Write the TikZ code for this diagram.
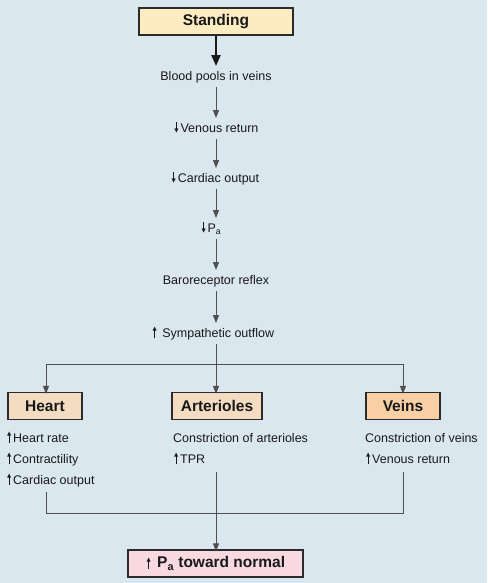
\documentclass[tikz,border=0pt]{standalone}
\usepackage{fontspec}
\setmainfont{Liberation Sans}
\newfontfamily\djv{DejaVu Sans}
\usetikzlibrary{arrows.meta}
\definecolor{bg}{HTML}{DAE7EF}
\definecolor{standfill}{HTML}{FDEBC2}
\definecolor{tanfill}{HTML}{F3DCC2}
\definecolor{veinfill}{HTML}{F9CFA6}
\definecolor{pinkfill}{HTML}{F8D9E1}
\definecolor{boxline}{HTML}{2B2B2B}
\definecolor{linec}{HTML}{505050}
\newcommand\uparr{{\setlength\unitlength{1pt}\begin{picture}(6,10)\put(2.6,-1){\rule{0.8pt}{8pt}}\put(3,8.2){\makebox(0,0){\djv\fontsize{5.5}{5.5}\selectfont ▲}}\end{picture}}\kern1pt}
\newcommand\dnarr{{\setlength\unitlength{1pt}\begin{picture}(6,10)\put(2.6,2){\rule{0.8pt}{8.5pt}}\put(3,0.8){\makebox(0,0){\djv\fontsize{5.5}{5.5}\selectfont ▼}}\end{picture}}\kern1pt}
\begin{document}
\begin{tikzpicture}[x=1pt,y=-1pt,
  txt/.style={font=\fontsize{12.5}{14}\selectfont, inner sep=0pt, text height=9pt, text depth=2.5pt, text=black!90},
  box/.style={draw=boxline, line width=1.2pt, minimum height=27pt, font=\fontsize{15.5}{17}\selectfont\bfseries, inner sep=0pt, text=black!90},
  arr/.style={draw=linec, line width=0.9pt, -{Triangle[length=8pt,width=6pt]}},
  ln/.style={draw=linec, line width=0.9pt}]
\fill[bg] (0,0) rectangle (487,583);
\useasboundingbox (0,0) rectangle (487,583);

\node[box, fill=standfill, minimum width=154pt] (stand) at (216,21.5) {Standing};
\node[txt] (blood) at (216,77) {Blood pools in veins};
\node[txt] (venous) at (216,129) {\dnarr Venous return};
\node[txt] (cardiac) at (215,179) {\dnarr Cardiac output};
\node[txt] (pa) at (211,229) {\dnarr P\textsubscript{a}};
\node[txt] (baro) at (216,281) {Baroreceptor reflex};
\node[txt] (symp) at (213,334) {\uparr\ Sympathetic outflow};

\node[box, fill=tanfill, minimum width=74pt] (heart) at (45,406) {Heart};
\node[box, fill=tanfill, minimum width=90pt] (arter) at (217,406) {Arterioles};
\node[box, fill=veinfill, minimum width=74pt] (veins) at (403,406) {Veins};

\node[txt, anchor=west] (h1) at (6,439) {\uparr Heart rate};
\node[txt, anchor=west] (h2) at (6,460) {\uparr Contractility};
\node[txt, anchor=west] (h3) at (6,481) {\uparr Cardiac output};
\node[txt, anchor=west] (a1) at (173,439) {Constriction of arterioles};
\node[txt, anchor=west] (a2) at (173,460) {\uparr TPR};
\node[txt, anchor=west] (v1) at (365,439) {Constriction of veins};
\node[txt, anchor=west] (v2) at (365,460) {\uparr Venous return};

\node[box, fill=pinkfill, minimum width=175pt] (pink) at (215.5,563.5) {\uparr\ P\textsubscript{a} toward normal};

\coordinate (split) at (216,364);
\coordinate (hstart) at (46,492);
\coordinate (hjoin) at (46,513);
\coordinate (vjoin) at (403,513);
\coordinate (vstart) at (403,472);
\coordinate (astart) at (216,472);

\draw[draw=black!90, line width=2pt, -{Triangle[length=11pt,width=9pt]}] (stand) -- ([yshift=5pt]blood.north);
\draw[arr] ([yshift=-4pt]blood.south) -- ([yshift=5pt]venous.north);
\draw[arr] ([yshift=-4pt]venous.south) -- ([yshift=5pt]venous.north |- cardiac.north);
\draw[arr] ([yshift=-4pt]venous.south |- cardiac.south) -- ([yshift=5pt]venous.north |- pa.north);
\draw[arr] ([yshift=-4pt]venous.south |- pa.south) -- ([yshift=5pt]baro.north);
\draw[arr] ([yshift=-4pt]baro.south) -- ([yshift=5pt]baro.north |- symp.north);
\draw[ln] ([yshift=-4pt]baro.south |- symp.south) -- (split);
\draw[arr] (split) -| ([xshift=1pt,yshift=-2pt]heart.north);
\draw[arr] (split) -| ([yshift=-2pt]veins.north);
\draw[arr] (split) -- ([yshift=-2pt]split |- arter.north);
\draw[ln] (hstart) -- (hjoin) -- (vjoin) -- (vstart);
\draw[arr] (astart) -- ([yshift=-2pt]astart |- pink.north);
\end{tikzpicture}
\end{document}
